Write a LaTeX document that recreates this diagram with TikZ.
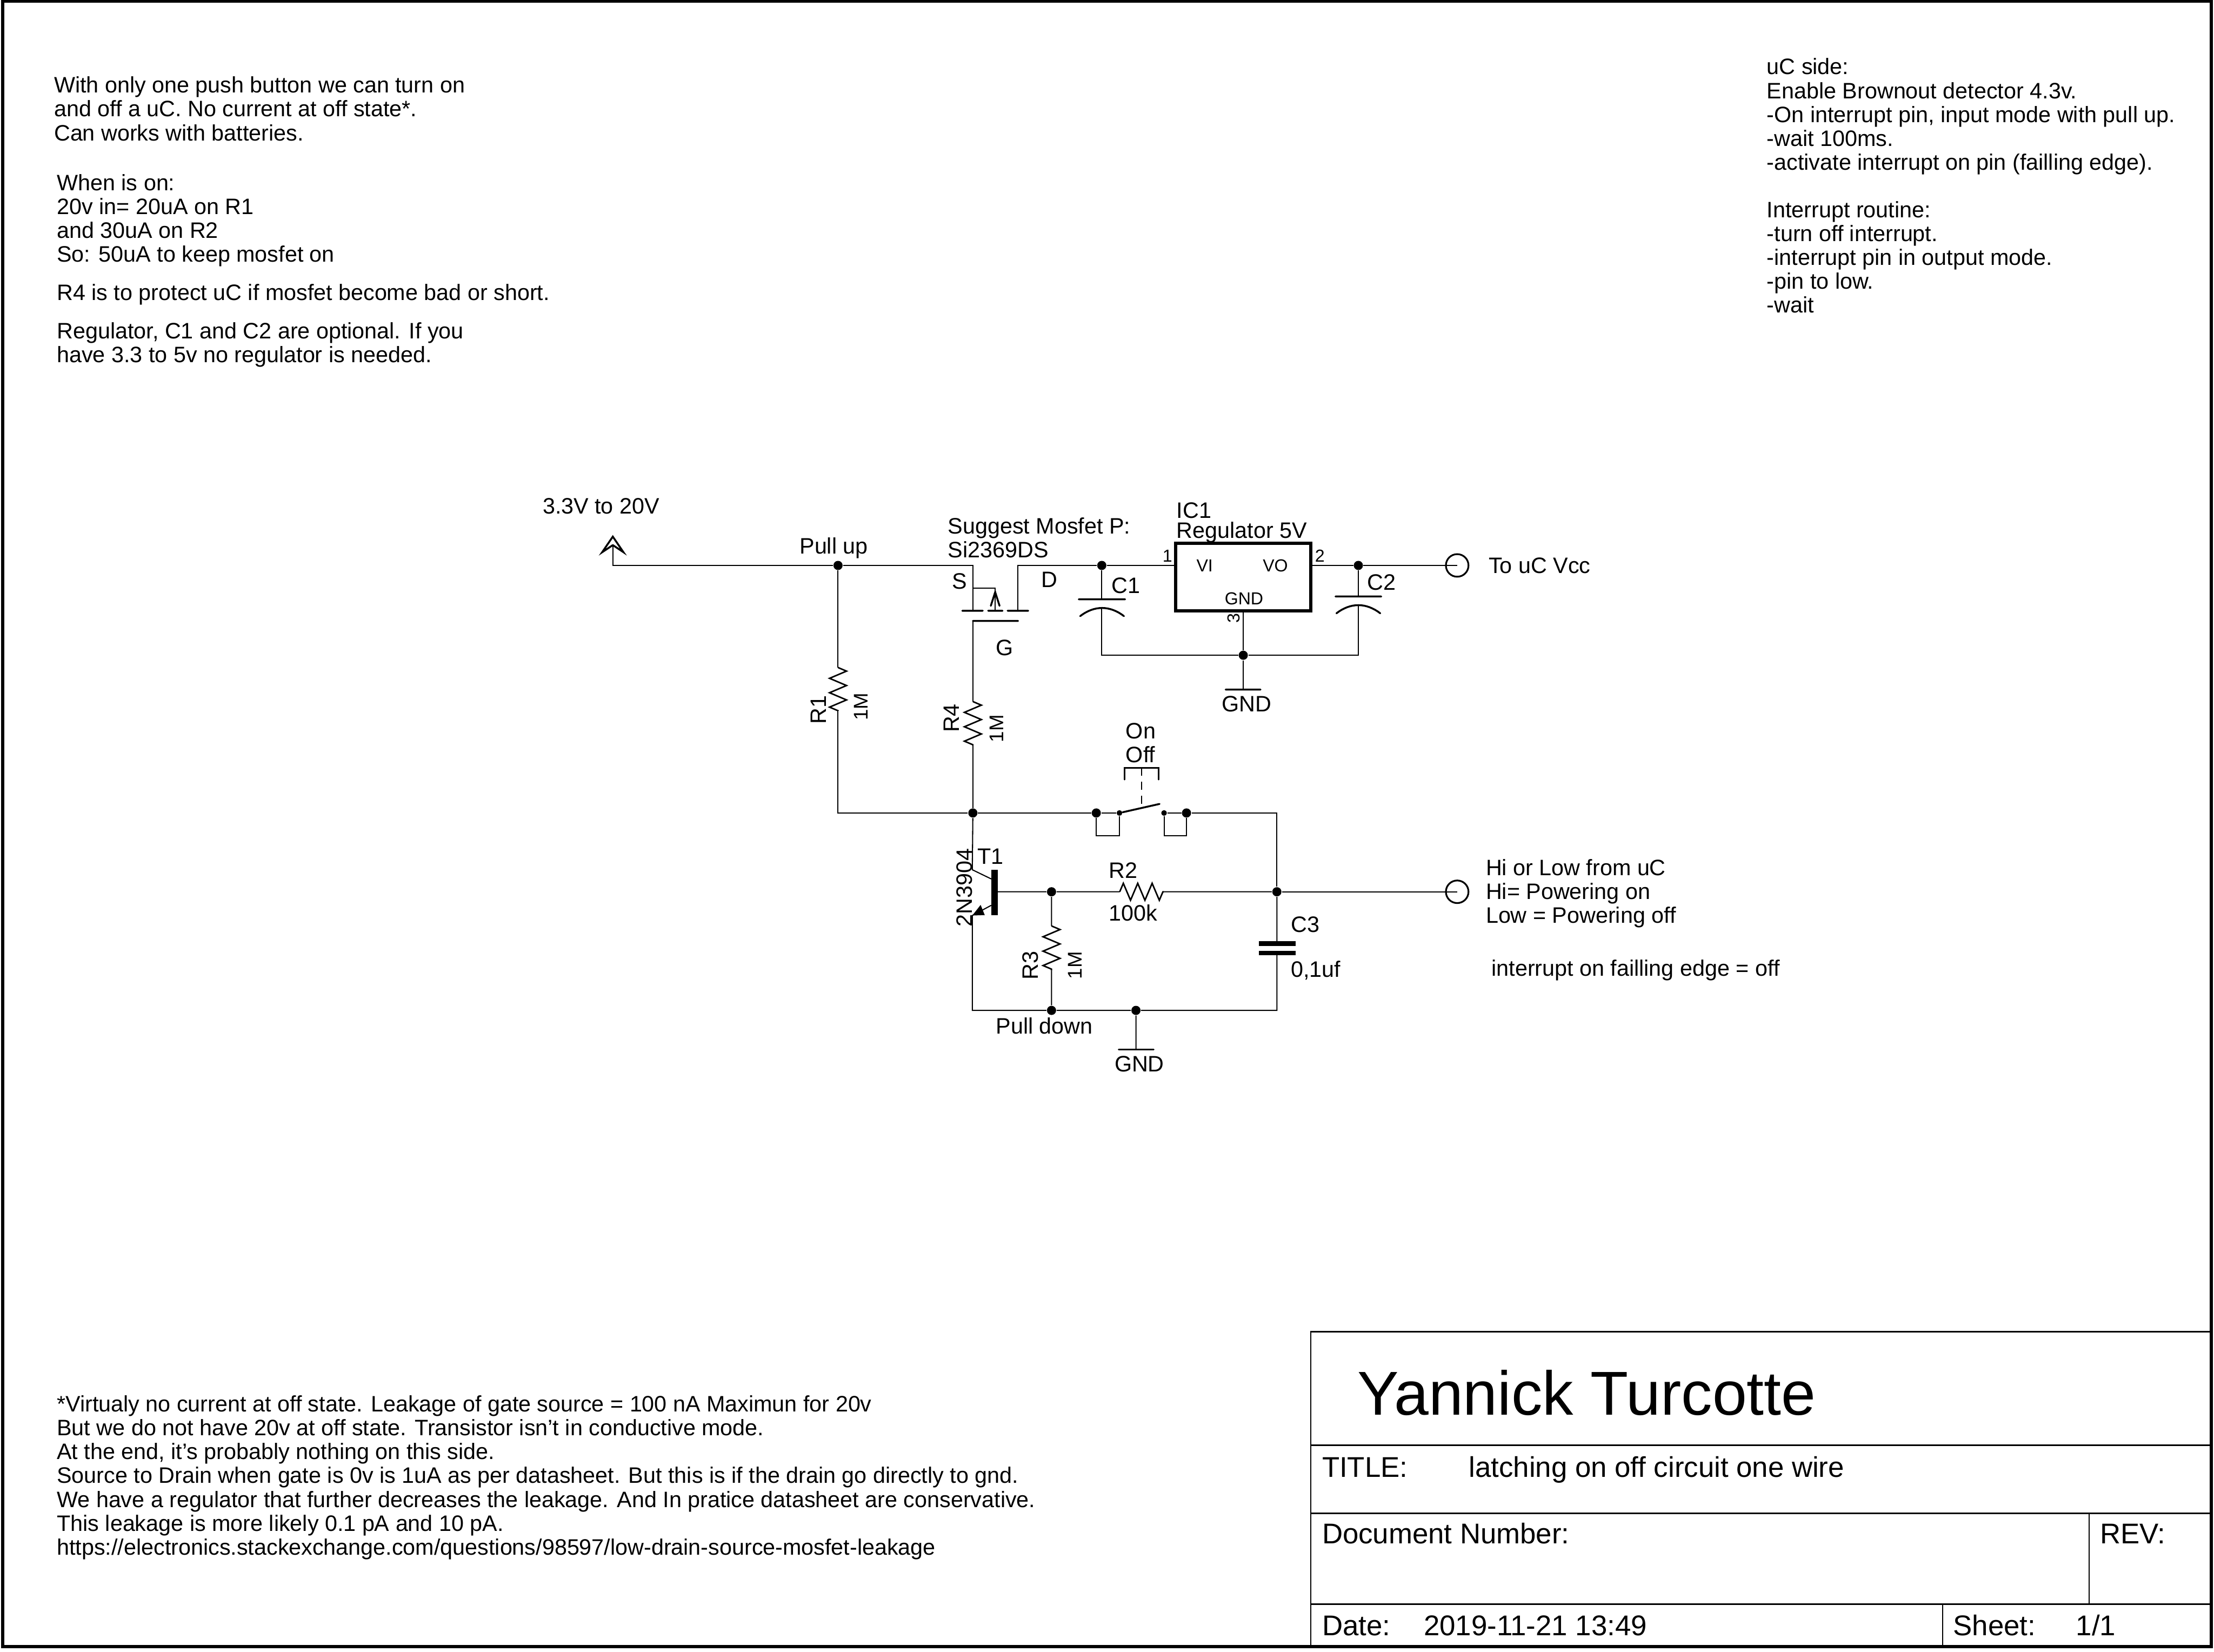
\documentclass[tikz,border=0pt]{standalone}
\usepackage{fontspec}
\setmainfont{Liberation Sans}
\usetikzlibrary{decorations.pathmorphing}
\tikzset{
    wire/.style={line width=0.45pt},
    heavy/.style={line width=0.75pt, line cap=round},
    rzig/.style={line width=0.6pt, decorate, decoration={zigzag, amplitude=0.12cm, segment length=0.204cm}},
    dot/.style={circle, fill=black, inner sep=0pt, minimum size=0.13cm},
    smalldot/.style={circle, fill=black, inner sep=0pt, minimum size=0.08cm},
    pad/.style={circle, draw, line width=0.7pt, inner sep=0pt, minimum size=0.32cm},
    txt/.style={anchor=base west, inner sep=0pt, font=\fontsize{9}{9.6}\selectfont},
    small/.style={txt, font=\fontsize{7}{8}\selectfont},
    note/.style={anchor=north west, inner sep=0pt, align=left, font=\fontsize{9}{9.6}\selectfont},
    vtxt/.style={txt, rotate=90},
    block/.style={anchor=base west, inner sep=0pt, font=\fontsize{11.5}{13}\selectfont},
}
\begin{document}
\begin{tikzpicture}[x=0.02cm, y=-0.02cm]
    \useasboundingbox (0,0) rectangle (1568,1169.5);
    % sheet
    \coordinate (page-nw) at (2,1);
    \coordinate (page-se) at (1566,1166);
    \draw[line width=1.2pt] (page-nw) rectangle (page-se);
    \coordinate (tb-nw) at (928.3,943);
    \coordinate (tb-ne) at (1566,943);
    \coordinate (tb-sw) at (928.3,1166);
    \coordinate (tb-a) at (928.3,1023.5);
    \coordinate (tb-b) at (1566,1023.5);
    \coordinate (tb-c) at (928.3,1071.6);
    \coordinate (tb-d) at (1566,1071.6);
    \coordinate (tb-e) at (928.3,1136);
    \coordinate (tb-f) at (1566,1136);
    \coordinate (rev-n) at (1479.6,1071.6);
    \coordinate (rev-s) at (1479.6,1136);
    \coordinate (sht-n) at (1375.7,1136);
    \coordinate (sht-s) at (1375.7,1166);
    \draw[line width=0.55pt]
    (tb-sw) -- (tb-nw) -- (tb-ne)
    (tb-a) -- (tb-b)
    (tb-c) -- (tb-d)
    (tb-e) -- (tb-f);
    \draw[wire] (rev-n) -- (rev-s) (sht-n) -- (sht-s);
    \node[anchor=base west, inner sep=0pt, font=\fontsize{25}{30}\selectfont] (author) at (961,1002) {Yannick Turcotte};
    \node[block] (title) at (936,1046) {TITLE:};
    \node[block] (titletext) at (1040,1046) {latching on off circuit one wire};
    \node[block] (docnum) at (936,1093) {Document Number:};
    \node[block] (rev) at (1487,1093) {REV:};
    \node[block] (date) at (936,1158) {Date:};
    \node[block] (datetext) at (1008,1158) {2019-11-21 13:49};
    \node[block] (sheet) at (1383,1158) {Sheet:};
    \node[block] (sheettext) at (1470,1158) {1/1};

    % notes
    \node[note] (note-a) at (38,54) {With only one push button we can turn on\\and off a uC. No current at off state*.\\Can works with batteries.};
    \node[note] (note-b) at (40,123) {When is on:\\20v in= 20uA on R1\\and 30uA on R2\\So: 50uA to keep mosfet on};
    \node[note] (note-c) at (40,201) {R4 is to protect uC if mosfet become bad or short.};
    \node[note] (note-d) at (40,228) {Regulator, C1 and C2 are optional. If you\\have 3.3 to 5v no regulator is needed.};
    \node[note] (note-e) at (1251,41) {uC side:\\Enable Brownout detector 4.3v.\\-On interrupt pin, input mode with pull up.\\-wait 100ms.\\-activate interrupt on pin (failling edge).\\[9.6pt]Interrupt routine:\\-turn off interrupt.\\-interrupt pin in output mode.\\-pin to low.\\-wait};
    \node[note] (note-f) at (40,988) {*Virtualy no current at off state. Leakage of gate source = 100 nA Maximun for 20v\\But we do not have 20v at off state. Transistor isn't in conductive mode.\\At the end, it's probably nothing on this side.\\Source to Drain when gate is 0v is 1uA as per datasheet. But this is if the drain go directly to gnd.\\We have a regulator that further decreases the leakage. And In pratice datasheet are conservative.\\This leakage is more likely 0.1 pA and 10 pA.\\https://electronics.stackexchange.com/questions/98597/low-drain-source-mosfet-leakage};

    % top rail
    \coordinate (vin) at (434,380);
    \coordinate (vin-l) at (426.5,391);
    \coordinate (vin-r) at (441.5,391);
    \coordinate (vin-m) at (434,386);
    \coordinate (vin-b) at (434,400.4);
    \node[dot] (n1) at (593.5,400.4) {};
    \coordinate (src) at (689,400.4);
    \coordinate (src-b) at (689,432.5);
    \coordinate (drn) at (720.8,400.4);
    \coordinate (drn-b) at (720.8,432.5);
    \node[dot] (n2) at (780.3,400.4) {};
    \node[dot] (n3) at (962,400.4) {};
    \node[pad] (vcc) at (1032,400.4) {};
    \draw[heavy] (vin-m) -- (vin-l) -- (vin) -- (vin-r) -- (vin-m);
    \draw[wire]
    (vin-m) -- (vin-b) -- (n1) -- (src) -- (src-b)
    (drn-b) -- (drn) -- (n2) -- (832.6,400.4)
    (928.3,400.4) -- (n3) -- (vcc.center);

    % mosfet
    \coordinate (sub-a) at (689,416.6);
    \coordinate (sub-b) at (704.8,416.6);
    \coordinate (sub-c) at (704.8,432.5);
    \coordinate (gate) at (689,439.7);
    \coordinate (gate-r) at (721,439.7);
    \draw[wire] (sub-a) -- (sub-b) -- (sub-c);
    \draw[heavy]
    (681.5,432.5) -- (696,432.5)
    (699.8,432.5) -- (710,432.5)
    (713.6,432.5) -- (728.2,432.5)
    (gate) -- (gate-r)
    (701.7,429) -- (704.8,419.3) -- (707.9,429);

    % regulator and caps
    \node[draw, line width=1.36pt, minimum width=1.914cm, minimum height=0.956cm, inner sep=0pt] (ic1) at (880.5,408.6) {};
    \node[dot] (n4) at (880.5,464) {};
    \coordinate (c1-s) at (780.3,464);
    \coordinate (c2-s) at (962,464);
    \coordinate (c1-a) at (780.3,424.4);
    \coordinate (c1-b) at (780.3,430.7);
    \coordinate (c2-a) at (962,422.4);
    \coordinate (c2-b) at (962,428.5);
    \coordinate (gnd-a) at (880.5,488.3);
    \draw[wire]
    (n2) -- (c1-a)
    (n3) -- (c2-a)
    (c1-b) -- (c1-s) -- (n4) -- (c2-s) -- (c2-b)
    (ic1.south) -- (n4) -- (gnd-a);
    \draw[heavy]
    (764,424.4) -- (796.8,424.4)
    (945.8,422.4) -- (978.2,422.4)
    (868,488.3) -- (892.7,488.3)
    (765,436.3) .. controls (775,428.6) and (786,428.6) .. (796,436.3)
    (946.5,434.3) .. controls (956.5,426.6) and (967.5,426.6) .. (977.5,434.3);

    % gate branch
    \coordinate (r1-a) at (593.5,472.7);
    \coordinate (r1-b) at (593.5,503.3);
    \coordinate (r4-a) at (689,496.8);
    \coordinate (r4-b) at (689,527.9);
    \coordinate (mid-l) at (593.5,575.7);
    \node[dot] (n5) at (689,575.7) {};
    \node[dot] (sw-a) at (776.4,575.7) {};
    \node[smalldot] (sw-b) at (792.8,575.7) {};
    \node[smalldot] (sw-c) at (824.4,575.7) {};
    \node[dot] (sw-d) at (840.3,575.7) {};
    \coordinate (mid-r) at (904.3,575.7);
    \node[dot] (n6) at (904.3,631.5) {};
    \node[pad] (hilo) at (1032,631.5) {};
    \draw[wire]
    (n1) -- (r1-a)
    (r1-b) -- (mid-l) -- (n5)
    (gate) -- (r4-a)
    (r4-b) -- (n5) -- (sw-a)
    (sw-d) -- (mid-r) -- (n6) -- (hilo.center);
    \draw[rzig] (r1-a) -- (r1-b);
    \draw[rzig] (r4-a) -- (r4-b);

    % push button
    \coordinate (tub-a) at (776.4,591.9);
    \coordinate (tub-b) at (792.8,591.9);
    \coordinate (tub-c) at (824.4,591.9);
    \coordinate (tub-d) at (840.3,591.9);
    \coordinate (blade) at (821.2,569.3);
    \draw[wire]
    (sw-a) -- (tub-a) -- (tub-b) -- (sw-b) -- (sw-a)
    (sw-c) -- (tub-c) -- (tub-d) -- (sw-d) -- (sw-c);
    \draw[heavy] (sw-b) -- (blade);
    \coordinate (btn-l) at (796.5,552);
    \coordinate (btn-r) at (820.6,552);
    \coordinate (btn-tl) at (796.5,543.8);
    \coordinate (btn-tr) at (820.6,543.8);
    \coordinate (btn-t) at (808.4,543.8);
    \coordinate (btn-b) at (808.4,571);
    \draw[heavy] (btn-l) -- (btn-tl) -- (btn-tr) -- (btn-r);
    \draw[wire, dash pattern=on 3.2pt off 2.4pt] (btn-t) -- (btn-b);

    % transistor and lower part
    \coordinate (col) at (688.6,615.9);
    \coordinate (col-b) at (702,622.4);
    \coordinate (emi) at (688.6,648.3);
    \coordinate (emi-b) at (702,641.1);
    \coordinate (base) at (704.3,631.5);
    \node[dot] (n7) at (744.7,631.5) {};
    \coordinate (r2-a) at (793,631.5);
    \coordinate (r2-b) at (824.4,631.5);
    \coordinate (r3-a) at (744.7,655.7);
    \coordinate (r3-b) at (744.7,687.3);
    \coordinate (low-l) at (688.6,715.5);
    \node[dot] (n8) at (744.7,715.5) {};
    \node[dot] (n9) at (804.5,715.5) {};
    \coordinate (low-r) at (904.3,715.5);
    \coordinate (c3-a) at (904.3,668.2);
    \coordinate (c3-b) at (904.3,674.9);
    \coordinate (gnd-b) at (804.5,743.3);
    \draw[wire]
    (n5) -- (col) -- (col-b)
    (emi-b) -- (emi) -- (low-l) -- (n8) -- (n9) -- (low-r) -- (c3-b)
    (c3-a) -- (n6) -- (r2-b)
    (r2-a) -- (n7) -- (base)
    (n7) -- (r3-a)
    (r3-b) -- (n8)
    (n9) -- (gnd-b);
    \draw[rzig] (r2-a) -- (r2-b);
    \draw[rzig] (r3-a) -- (r3-b);
    \draw[line width=2.7pt] (704.3,615.9) -- (704.3,648);
    \fill (emi) -- (694.5,640.8) -- (697.4,648) -- cycle;
    \draw[line width=1.9pt] (891.6,668.2) -- (917.4,668.2) (891.6,674.9) -- (917.4,674.9);
    \draw[heavy] (792.3,743.3) -- (817,743.3);

    % labels
    \node[txt] (l-vin) at (384,364) {3.3V to 20V};
    \node[txt] (l-pup) at (566,392) {Pull up};
    \node[txt] (l-fet) at (671,378) {Suggest Mosfet P:};
    \node[txt] (l-fetb) at (671,395) {Si2369DS};
    \node[txt] (l-s) at (674,417) {S};
    \node[txt] (l-d) at (737,416) {D};
    \node[txt] (l-g) at (705,464) {G};
    \node[txt] (l-ic) at (833,367) {IC1};
    \node[txt] (l-reg) at (833,381) {Regulator 5V};
    \node[small] (l-p1) at (823,398) {1};
    \node[small] (l-vi) at (847,405) {VI};
    \node[small] (l-vo) at (894,405) {VO};
    \node[small] (l-gn) at (867,428) {GND};
    \node[small] (l-p2) at (931,398) {2};
    \node[small, rotate=90] (l-p3) at (878,441.4) {3};
    \node[txt] (l-c1) at (787,420) {C1};
    \node[txt] (l-c2) at (968,418) {C2};
    \node[txt] (l-gnd) at (865,504) {GND};
    \node[txt] (l-vcc) at (1054,406) {To uC Vcc};
    \node[txt] (l-on) at (797,523) {On};
    \node[txt] (l-off) at (797,540) {Off};
    \node[vtxt] (l-r1) at (585,513) {R1};
    \node[vtxt, font=\fontsize{8}{9}\selectfont] (l-r1v) at (614.7,510.4) {1M};
    \node[vtxt] (l-r4) at (679.3,519) {R4};
    \node[vtxt, font=\fontsize{8}{9}\selectfont] (l-r4v) at (710.5,526) {1M};
    \node[vtxt] (l-r3) at (735,694) {R3};
    \node[vtxt, font=\fontsize{8}{9}\selectfont] (l-r3v) at (766,693.7) {1M};
    \node[vtxt] (l-q) at (688.6,656.5) {2N3904};
    \node[txt] (l-t1) at (692,612) {T1};
    \node[txt] (l-r2) at (785,622) {R2};
    \node[txt] (l-r2v) at (785,652) {100k};
    \node[txt] (l-c3) at (914,660) {C3};
    \node[txt] (l-c3v) at (914,692) {0,1uf};
    \node[txt] (l-pdn) at (705,732) {Pull down};
    \node[txt] (l-gnd2) at (789,759) {GND};
    \node[note] (l-hilo) at (1052,608) {Hi or Low from uC\\Hi= Powering on\\Low = Powering off};
    \node[txt] (l-int) at (1056,691) {interrupt on failling edge = off};
\end{tikzpicture}
\end{document}
